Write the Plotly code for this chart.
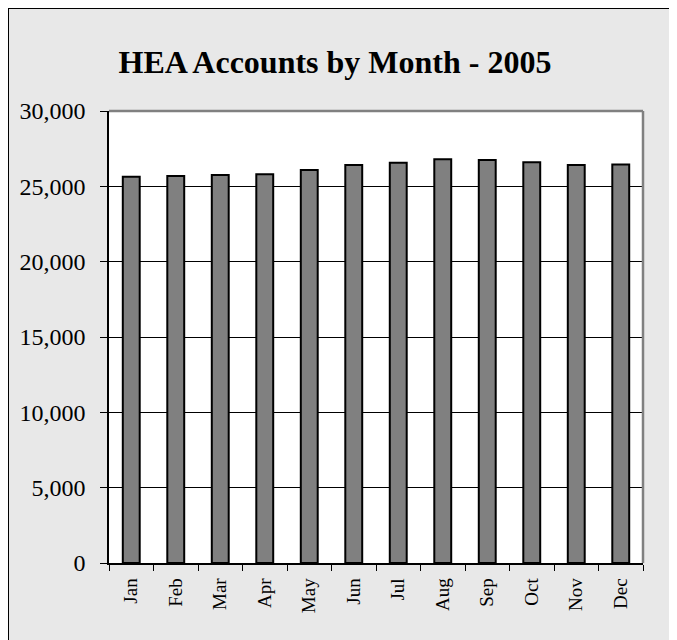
import plotly.graph_objects as go

months = ["Jan", "Feb", "Mar", "Apr", "May", "Jun", "Jul", "Aug", "Sep", "Oct", "Nov", "Dec"]
accounts = [25640, 25690, 25750, 25800, 26080, 26410, 26560, 26800, 26740, 26600, 26410, 26450]
y_ticks = [0, 5000, 10000, 15000, 20000, 25000, 30000]

# The page places the figure at an 8px body margin offset.
W, H = 677, 640
OFF = 8
L, R, T, B = 109 - OFF, 643 - OFF, 111 - OFF, 563 - OFF
pw, ph = R - L, B - T

def px_x(p):
    return (p - L) / pw

def px_y(p):
    return (B - p) / ph

fig = go.Figure()
fig.add_trace(go.Bar(
    x=months, y=accounts,
    marker=dict(color="#808080", line=dict(color="black", width=2)),
))

shapes = [
    # black border on top and left edge of the grey chart area
    dict(type="line", xref="paper", yref="paper",
         x0=px_x(0), x1=px_x(W), y0=px_y(0.5), y1=px_y(0.5),
         line=dict(color="black", width=1)),
    dict(type="line", xref="paper", yref="paper",
         x0=px_x(0.5), x1=px_x(0.5), y0=px_y(0), y1=px_y(H),
         line=dict(color="black", width=1)),
    # top and right grey plot border
    dict(type="line", xref="paper", yref="paper", x0=0, x1=1, y0=1, y1=1,
         line=dict(color="#808080", width=2.5)),
    dict(type="line", xref="paper", yref="paper", x0=1, x1=1, y0=0, y1=1,
         line=dict(color="#808080", width=2.5)),
]

fig.update_layout(
    width=W, height=H,
    margin=dict(l=L, r=W - R, t=T, b=H - B, autoexpand=False),
    paper_bgcolor="#e8e8e8",
    plot_bgcolor="white",
    showlegend=False,
    bargap=0.62,
    shapes=shapes,
    title=dict(text="<b>HEA Accounts by Month - 2005</b>",
               font=dict(family="Liberation Serif", size=32, color="black"),
               x=(335 - OFF) / W, xanchor="center", y=1 - (62 - OFF) / H, yanchor="middle"),
    font=dict(family="Liberation Serif", color="black"),
)

fig.update_yaxes(
    range=[0, 30000], tickvals=y_ticks, tickformat=",",
    showgrid=True, gridcolor="black", gridwidth=1,
    showline=True, linecolor="black", linewidth=1.5,
    ticks="outside", ticklen=7, tickcolor="black", tickwidth=1,
    tickfont=dict(family="Liberation Serif", size=24, color="black"),
    ticklabelstandoff=10,
    zeroline=False,
)
fig.update_xaxes(
    showgrid=False,
    showline=True, linecolor="black", linewidth=1.5,
    ticks="outside", tickson="boundaries", ticklen=6, tickcolor="black", tickwidth=1,
    tickangle=-90,
    tickfont=dict(family="Liberation Serif", size=19, color="black"),
    ticklabelstandoff=6,
)

fig.write_html(
    "out.html",
    post_script="document.documentElement.style.overflow='hidden';document.body.style.overflow='hidden';",
)
